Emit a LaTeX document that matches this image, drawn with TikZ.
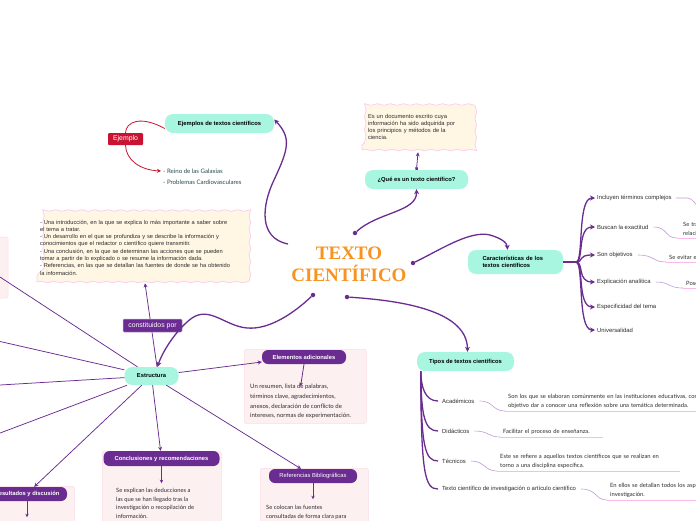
\documentclass[tikz,border=0pt]{standalone}
\usepackage{fontspec}
\setmainfont{Liberation Sans}
\newfontfamily\latofont{Lato}
\newfontfamily\titlefont{Liberation Serif}
\usetikzlibrary{arrows.meta,decorations.pathmorphing}
\definecolor{mpurple}{RGB}{106,44,145}
\definecolor{mteal}{RGB}{168,246,224}
\definecolor{mcream}{RGB}{255,246,228}
\definecolor{mwavy}{RGB}{250,205,235}
\definecolor{mpinkfill}{RGB}{253,240,240}
\definecolor{mpinkline}{RGB}{250,220,232}
\definecolor{mred}{RGB}{200,20,50}
\definecolor{mlpurple}{RGB}{195,155,218}
\definecolor{mpinkul}{RGB}{250,185,235}
\definecolor{morange}{RGB}{247,147,30}
\definecolor{mdark}{RGB}{45,45,45}
\definecolor{mslate}{RGB}{40,75,80}
\tikzset{
 pline/.style={draw=mpurple, line width=1.3pt},
 parrow/.style={pline, -{Stealth[length=5pt,width=5pt]}},
 spoke/.style={draw=mpurple, line width=0.75pt, -{Stealth[length=4pt,width=4pt]}},
 thinarrow/.style={draw=mpurple, line width=0.8pt, -{Stealth[length=3.5pt,width=3.5pt]}},
 dot/.style={circle, fill=mpurple, inner sep=0pt, minimum size=4.5pt},
 tealbox/.style={fill=mteal, rounded corners=8pt, inner sep=0pt, font=\bfseries\fontsize{5.8}{7}\selectfont},
 wavybox/.style={fill=mcream, draw=mwavy, line width=0.7pt, decorate, decoration={snake, segment length=13pt, amplitude=0.8pt}, inner sep=0pt, text=mdark, align=left},
 gbox/.style={fill=mpinkfill, draw=mpinkline, line width=0.5pt, rounded corners=1.5pt, inner sep=0pt},
 phead/.style={fill=mpurple, rounded corners=6pt, text=white, inner sep=0pt, font=\bfseries\fontsize{5.8}{7}\selectfont},
 gtext/.style={font=\latofont\fontsize{6}{9.7}\selectfont, text=mdark, align=left, inner sep=0pt},
 item/.style={font=\fontsize{5.9}{7}\selectfont, text=mdark, inner sep=0pt},
 expl/.style={font=\latofont\fontsize{5.8}{8.8}\selectfont, text=mdark, align=left, inner xsep=3pt, inner ysep=2.5pt},
 lconn/.style={draw=mlpurple, line width=0.6pt},
 uline/.style={draw=mpinkul, line width=1pt},
 tag/.style={text=white, inner sep=0pt, font=\fontsize{6.9}{8}\selectfont},
}
\begin{document}
\begin{tikzpicture}[x=1pt,y=-1pt]
\useasboundingbox (0,0) rectangle (696,520);
\clip (0,0) rectangle (696,520);
\fill[white] (0,0) rectangle (696,520);

% title
\node[font=\titlefont\bfseries\fontsize{19}{22}\selectfont, text=morange, align=center, inner sep=0pt] (title) at (349,264) {TEXTO\\CIENTÍFICO};
\node[dot] (d1) at (355,233) {};
\node[dot] (d2) at (413,263) {};
\node[dot] (d3) at (313,295) {};
\node[dot] (d4) at (347,297) {};
\coordinate (t0) at (288,244);

% Que es
\node[tealbox, minimum width=103, minimum height=19] (que) at (416.5,179.5) {¿Qué es un texto científico?};
\node[wavybox, minimum width=112, minimum height=46, text width=100, font=\fontsize{5.8}{7.1}\selectfont] (def) at (418,127) {Es un documento escrito cuya\\información ha sido adquirida por\\los principios y métodos de la\\ciencia.};
\draw[thinarrow, {Square[length=2.5pt,width=2.5pt]}-{Stealth[length=4pt,width=4pt]}] (que.north) -- ([yshift=-2]def.south);
\draw[parrow] (d1) .. controls (378,212) and (417,212) .. (que.south);

% Ejemplos
\node[tealbox, minimum width=109, minimum height=19] (ejemplos) at (219.5,123.5) {Ejemplos de textos científicos};
\node[fill=mred, rounded corners=1pt, minimum width=35, minimum height=12, tag] (ejtag) at (125.5,139) {Ejemplo};
\node[anchor=west, inner sep=0pt, font=\latofont\fontsize{6.1}{7}\selectfont, text=mslate] (ej1) at (163,171) {- Reino de las Galaxias};
\node[anchor=west, inner sep=0pt, font=\latofont\fontsize{6.1}{7}\selectfont, text=mslate] (ej2) at (163,182) {- Problemas Cardiovasculares};
\draw[draw=mred, line width=0.8pt] ([yshift=-5]ejemplos.west) .. controls (140,115) and (126,122) .. (ejtag.north);
\draw[draw=mred, line width=0.8pt, -{Stealth[length=4pt,width=4pt]}] (ejtag.south) .. controls (126,160) and (140,170) .. ([xshift=-2]ej1.west);
\draw[parrow] (t0) .. controls (258,238) and (262,205) .. (274,180) .. controls (288,150) and (292,138) .. ([yshift=4]ejemplos.east);

% Estructura
\node[wavybox, minimum width=211, minimum height=69, text width=205, font=\fontsize{5.7}{7.3}\selectfont] (partes) at (142.5,247.5) {- Una introducción, en la que se explica lo más importante a saber sobre\\el tema a tratar.\\- Un desarrollo en el que se profundiza y se describe la información y\\conocimientos que el redactor o científico quiere transmitir.\\- Una conclusión, en la que se determinan las acciones que se pueden\\tomar a partir de lo explicado o se resume la información dada.\\- Referencias, en las que se detallan las fuentes de donde se ha obtenido\\la información.};
\node[tealbox, minimum width=54, minimum height=18] (estr) at (151.5,376) {Estructura};
\draw[spoke] ([xshift=5.5]estr.north) -- ([xshift=2.5,yshift=-1]partes.south);
\node[fill=mpurple, draw=mlpurple, line width=0.5pt, rounded corners=1pt, minimum width=59, minimum height=13, tag] (const) at (152.5,325.5) {constituidos por};
\draw[parrow] (d3) .. controls (295,312) and (270,330) .. (247,328) .. controls (225,326) and (210,306) .. (192,318) .. controls (178,328) and (163,350) .. ([xshift=6]estr.north);

% left partial box
\draw[gbox] (-20,237) rectangle (8,298);
\coordinate (L1) at (-10,270.5);
\coordinate (L2) at (-10,339.2);
\coordinate (L3) at (-10,385.6);
\coordinate (L4) at (-10,436.8);
\draw[spoke] (estr) -- (L1);
\draw[spoke] (estr) -- (L2);
\draw[spoke] (estr) -- (L3);
\draw[spoke] (estr) -- (L4);

% Elementos adicionales
\node[gbox, anchor=north west, minimum width=122, minimum height=74] (elembox) at (244,349) {};
\node[phead, minimum width=84, minimum height=14] (elemhead) at (304,357) {Elementos adicionales};
\node[gtext, anchor=north west] (elemtext) at (250,384) {Un resumen, lista de palabras,\\términos clave, agradecimientos,\\anexos, declaración de conflicto de\\intereses, normas de experimentación.};
\draw[thinarrow] (elemhead.south) -- ([xshift=0,yshift=-2]elemtext.north);
\draw[spoke] (estr) -- ([yshift=-5]elemhead.west);

% Conclusiones
\node[gbox, anchor=north west, minimum width=119, minimum height=80] (concbox) at (102,451) {};
\node[phead, minimum width=116, minimum height=15] (conchead) at (161.5,458.5) {Conclusiones y recomendaciones};
\node[gtext, anchor=north west, font=\latofont\fontsize{5.8}{8.6}\selectfont] (conctext) at (116,488) {Se explican las deducciones a\\las que se han llegado tras la\\investigación o recopilación de\\información.};
\draw[thinarrow] (conchead.south) -- ++(0,17);
\draw[spoke] (estr) -- (conchead);

% Referencias
\node[gbox, anchor=north west, minimum width=108, minimum height=70] (refbox) at (260,468) {};
\node[phead, minimum width=88, minimum height=14, font=\fontsize{5.8}{7}\selectfont] (refhead) at (313,476) {Referencias Bibliográficas};
\node[gtext, anchor=north west, font=\latofont\fontsize{5.8}{8.6}\selectfont] (reftext) at (266,505) {Se colocan las fuentes\\consultadas de forma clara para};
\draw[thinarrow] (refhead.south) -- ++(0,16);
\draw[spoke] (estr) -- ([xshift=-12]refhead.north);

% Resultados
\node[gbox, anchor=north west, minimum width=134, minimum height=60] (resbox) at (-60,486) {};
\node[phead, minimum width=80, minimum height=14] (reshead) at (27,494) {Resultados y discusión};
\draw[thinarrow] (reshead.south) -- ++(0,16);
\draw[spoke] (estr) -- ([xshift=-33]reshead.north east);

% Caracteristicas
\node[tealbox, minimum width=95, minimum height=24, text width=66, align=left, font=\bfseries\fontsize{5.8}{7}\selectfont] (char) at (515.5,262) {Características de los\\textos científicos};
\draw[parrow] (d2) .. controls (440,250) and (470,230) .. (490,235) .. controls (500,238) and (507,242) .. ([xshift=-8]char.north);
\coordinate (cj) at (576,262);
\draw[pline, line width=2pt] (char.east) -- (cj);
\node[item, anchor=west] (c1) at (597,198) {Incluyen términos complejos};
\node[item, anchor=west] (c2) at (597,227) {Buscan la exactitud};
\node[item, anchor=west] (c3) at (597,255) {Son objetivos};
\node[item, anchor=west] (c4) at (597,282) {Explicación analítica};
\node[item, anchor=west] (c5) at (597,307) {Especificidad del tema};
\node[item, anchor=west] (c6) at (597,330) {Universalidad};
\foreach \n/\yy in {c1/198,c2/227,c3/255,c4/282,c5/307,c6/330}{
  \draw[parrow] (cj) .. controls (584,262) and (577,\yy) .. ([xshift=-2]\n.west);
}
\coordinate (cx1) at (712,220);
\draw[lconn] ([xshift=4]c1.east) -- (688,198) .. controls (693,198) and (694,205) .. (cx1);
\node[expl, anchor=south west, text width=150] (cx2) at (680,238) {Se trata de una\\relación};
\draw[uline] ([xshift=-3]cx2.south west) -- (cx2.south east);
\draw[lconn] ([xshift=5]c2.east) .. controls (668,227) and (664,238) .. ([xshift=-3]cx2.south west);
\node[expl, anchor=south west, text width=150] (cx3) at (666,262) {Se evitar emociones};
\draw[uline] (cx3.south west) -- (cx3.south east);
\draw[lconn] ([xshift=5]c3.east) .. controls (655,255) and (652,262) .. (cx3.south west);
\node[expl, anchor=south west, text width=150] (cx4) at (683,288) {Posee};
\draw[uline] (cx4.south west) -- (cx4.south east);
\draw[lconn] ([xshift=5]c4.east) .. controls (670,282) and (668,288) .. (cx4.south west);

% Tipos
\node[tealbox, minimum width=97, minimum height=19] (tipos) at (465.5,361.5) {Tipos de textos científicos};
\draw[parrow] (d4) .. controls (392,300) and (467,308) .. ([xshift=2]tipos.north);
\node[item, anchor=west] (t1) at (442,401) {Académicos};
\node[item, anchor=west] (t2) at (442,431) {Didácticos};
\node[item, anchor=west] (t3) at (442,461) {Técnicos};
\node[item, anchor=west] (t4) at (442,489) {Texto científico de investigación o artículo científico};
\foreach \n/\yy in {t1/401,t2/431,t3/461,t4/489}{
  \draw[pline] ([xshift=4]tipos.south west) .. controls (421,\yy-14) and (425,\yy) .. ([xshift=-4]\n.west);
}
\node[expl, anchor=south west, text width=260] (x1) at (505,411) {Son los que se elaboran comúnmente en las instituciones educativas, con el\\objetivo dar a conocer una reflexión sobre una temática determinada.};
\draw[uline] (x1.south west) -- (x1.south east);
\draw[lconn] ([xshift=5]t1.east) .. controls (494,401) and (492,411) .. (x1.south west);
\node[expl, anchor=south west, text width=97] (x2) at (500,437) {Facilitar el proceso de enseñanza.};
\draw[uline] (x2.south west) -- (x2.south east);
\draw[lconn] ([xshift=5]t2.east) .. controls (489,431) and (488,437) .. (x2.south west);
\node[expl, anchor=south west, text width=177] (x3) at (497,471) {Este se refiere a aquellos textos científicos que se realizan en\\torno a una disciplina específica.};
\draw[uline] (x3.south west) -- (x3.south east);
\draw[lconn] ([xshift=5]t3.east) .. controls (485,461) and (484,471) .. (x3.south west);
\node[expl, anchor=south west, text width=200] (x4) at (607,500) {En ellos se detallan todos los aspectos de la\\investigación.};
\draw[uline] (x4.south west) -- (x4.south east);
\draw[lconn] ([xshift=5]t4.east) .. controls (597,489) and (595,500) .. (x4.south west);
\end{tikzpicture}
\end{document}
